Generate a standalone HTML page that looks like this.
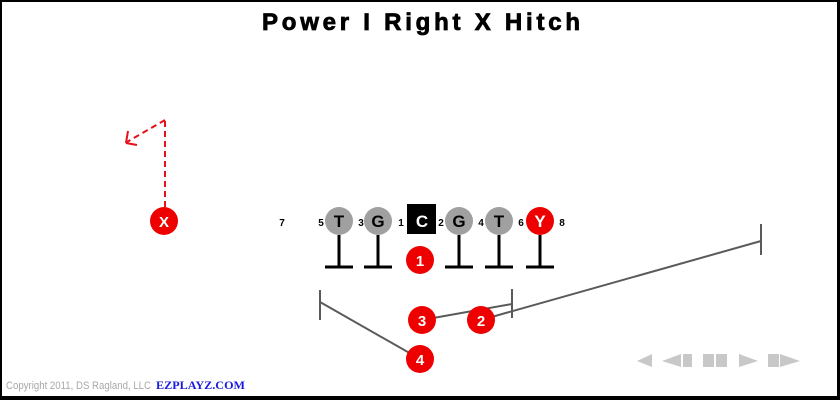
<!DOCTYPE html>
<html><head><meta charset="utf-8"><style>
html,body{margin:0;padding:0;background:#fff;}
svg{display:block;}
</style></head><body>
<svg width="840" height="400" viewBox="0 0 840 400" xmlns="http://www.w3.org/2000/svg">
<rect x="0" y="0" width="840" height="400" fill="#fff"/>
<!-- border -->
<rect x="0" y="0" width="840" height="2" fill="#000"/>
<rect x="0" y="0" width="2" height="400" fill="#000"/>
<rect x="837" y="0" width="3" height="400" fill="#000"/>
<rect x="0" y="396" width="840" height="4" fill="#000"/>

<text x="262" y="30" textLength="318" lengthAdjust="spacing" font-family="Liberation Sans, sans-serif" font-weight="bold" font-size="24" fill="#000" stroke="#000" stroke-width="0.8">Power I Right X Hitch</text>

<!-- X route -->
<g stroke="#e8101a" stroke-width="2" fill="none" stroke-dasharray="6,4">
<line x1="165" y1="207" x2="165" y2="120"/>
<line x1="165" y1="120" x2="127" y2="142"/>
</g>
<g stroke="#e8101a" stroke-width="2" fill="none">
<line x1="126" y1="143" x2="128" y2="131"/>
<line x1="126" y1="143" x2="137" y2="145"/>
</g>
<circle cx="164" cy="221" r="14" fill="#ee0000"/>
<text x="164" y="227" text-anchor="middle" font-family="Liberation Sans, sans-serif" font-weight="bold" font-size="15" fill="#fff">X</text>

<!-- gap numbers -->
<g font-family="Liberation Sans, sans-serif" font-weight="bold" font-size="10" fill="#000" text-anchor="middle">
<text x="282" y="226">7</text>
<text x="321" y="226">5</text>
<text x="361" y="226">3</text>
<text x="401" y="226">1</text>
<text x="441" y="226">2</text>
<text x="481" y="226">4</text>
<text x="521" y="226">6</text>
<text x="562" y="226">8</text>
</g>

<!-- blocks -->
<g stroke="#000" stroke-width="3">
<line x1="339" y1="235" x2="339" y2="267"/><line x1="325" y1="267" x2="353" y2="267"/>
<line x1="378" y1="235" x2="378" y2="267"/><line x1="364" y1="267" x2="392" y2="267"/>
<line x1="459" y1="235" x2="459" y2="267"/><line x1="445" y1="267" x2="473" y2="267"/>
<line x1="499" y1="235" x2="499" y2="267"/><line x1="485" y1="267" x2="513" y2="267"/>
<line x1="540" y1="235" x2="540" y2="267"/><line x1="526" y1="267" x2="554" y2="267"/>
</g>

<!-- linemen -->
<g font-family="Liberation Sans, sans-serif" font-weight="bold" font-size="17" text-anchor="middle">
<circle cx="339" cy="221" r="14" fill="#a0a0a0"/>
<text x="339" y="227" fill="#000">T</text>
<circle cx="378" cy="221" r="14" fill="#a0a0a0"/>
<text x="378" y="227" fill="#000">G</text>
<rect x="407" y="204" width="29" height="30" fill="#000"/>
<text x="422" y="227" fill="#fff">C</text>
<circle cx="459" cy="221" r="14" fill="#a0a0a0"/>
<text x="459" y="227" fill="#000">G</text>
<circle cx="499" cy="221" r="14" fill="#a0a0a0"/>
<text x="499" y="227" fill="#000">T</text>
<circle cx="540" cy="221" r="14" fill="#ee0000"/>
<text x="540" y="227" fill="#fff">Y</text>
</g>

<!-- backfield routes -->
<g stroke="#5a5a5a" stroke-width="2" fill="none">
<line x1="320" y1="290" x2="320" y2="320"/>
<line x1="320" y1="302" x2="420" y2="359"/>
<line x1="512" y1="289" x2="512" y2="318"/>
<line x1="422" y1="320" x2="512" y2="304"/>
<line x1="481" y1="320" x2="761" y2="241"/>
<line x1="761" y1="224" x2="761" y2="255"/>
</g>

<g font-family="Liberation Sans, sans-serif" font-weight="bold" font-size="15" text-anchor="middle">
<circle cx="420" cy="260" r="14" fill="#ee0000"/>
<text x="420" y="266" fill="#fff">1</text>
<circle cx="422" cy="320" r="14" fill="#ee0000"/>
<text x="422" y="326" fill="#fff">3</text>
<circle cx="481" cy="320" r="14" fill="#ee0000"/>
<text x="481" y="326" fill="#fff">2</text>
<circle cx="420" cy="359" r="14" fill="#ee0000"/>
<text x="420" y="365" fill="#fff">4</text>
</g>

<!-- footer -->
<text x="6" y="389" textLength="145" lengthAdjust="spacingAndGlyphs" font-family="Liberation Sans, sans-serif" font-size="11" fill="#a8a8a8">Copyright 2011, DS Ragland, LLC</text>
<text x="156" y="389" textLength="89" lengthAdjust="spacingAndGlyphs" font-family="Liberation Serif, serif" font-weight="bold" font-size="12" fill="#1a1adf">EZPLAYZ.COM</text>

<!-- controls -->
<g fill="#c8c8c8">
<polygon points="637,361 652,354 652,367"/>
<polygon points="662,361 681,354 681,367"/>
<rect x="683" y="354" width="9" height="13"/>
<rect x="703" y="354" width="11" height="13"/>
<rect x="716" y="354" width="11" height="13"/>
<polygon points="739,354 758,361 739,367"/>
<rect x="768" y="354" width="11" height="13"/>
<polygon points="780,354 800,361 780,367"/>
</g>
</svg>
</body></html>
